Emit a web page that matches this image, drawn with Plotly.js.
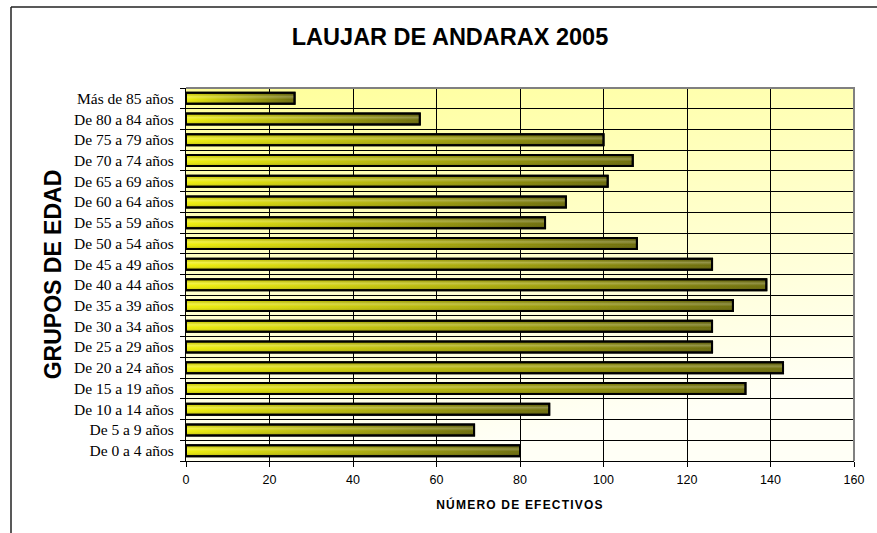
<!DOCTYPE html>
<html>
<head>
<meta charset="utf-8">
<script src="https://cdn.plot.ly/plotly-3.0.1.min.js"></script>
<style>
  html, body { margin: 0; padding: 0; background: #fff; }
  #chart { width: 877px; height: 533px; }
</style>
</head>
<body>
<div id="chart"></div>
<script>
// grupos de edad, de abajo hacia arriba
var grupos = ['De 0 a 4 años', 'De 5 a 9 años', 'De 10 a 14 años', 'De 15 a 19 años',
    'De 20 a 24 años', 'De 25 a 29 años', 'De 30 a 34 años', 'De 35 a 39 años',
    'De 40 a 44 años', 'De 45 a 49 años', 'De 50 a 54 años', 'De 55 a 59 años',
    'De 60 a 64 años', 'De 65 a 69 años', 'De 70 a 74 años', 'De 75 a 79 años',
    'De 80 a 84 años', 'Más de 85 años'];
var efectivos = [80, 69, 87, 134, 143, 126, 126, 131, 139, 126, 108, 86, 91, 101, 107, 100, 56, 26];
var xTicks = [0, 20, 40, 60, 80, 100, 120, 140, 160];

var data = [{
    type: 'bar',
    orientation: 'h',
    x: efectivos,
    y: grupos,
    hoverinfo: 'none',
    showlegend: false,
    marker: {
        color: '#B0B000',
        line: { color: '#000000', width: 2 }
    }
}];

var layout = {
    width: 877,
    height: 533,
    margin: { l: 186, r: 23, t: 88, b: 72 },
    paper_bgcolor: '#FFFFFF',
    plot_bgcolor: '#FFFF99',
    bargap: 0.47,
    title: {
        text: 'LAUJAR DE ANDARAX 2005',
        font: { family: 'Liberation Sans, Arial, sans-serif', size: 23.5, weight: 'bold', color: '#000' },
        xref: 'container', x: 450 / 877, xanchor: 'center',
        yref: 'container', y: 1 - 37 / 533, yanchor: 'middle'
    },
    xaxis: {
        range: [0, 160],
        tickmode: 'array',
        tickvals: xTicks,
        ticktext: xTicks.map(String),
        showgrid: true,
        gridcolor: '#000000',
        gridwidth: 1,
        zeroline: false,
        showline: true,
        linecolor: '#000000',
        linewidth: 1,
        ticks: 'outside',
        ticklen: 5,
        tickcolor: '#000000',
        ticklabelstandoff: 2,
        tickfont: { family: 'Liberation Sans, Arial, sans-serif', size: 12.5, color: '#000' },
        title: {
            text: 'NÚMERO DE EFECTIVOS',
            standoff: 14,
            font: { family: 'Liberation Sans, Arial, sans-serif', size: 12, weight: 'bold', color: '#000' }
        },
        fixedrange: true
    },
    yaxis: {
        type: 'category',
        range: [-0.5, 17.5],
        tickson: 'boundaries',
        showgrid: true,
        gridcolor: '#000000',
        gridwidth: 1,
        showline: true,
        linecolor: '#000000',
        linewidth: 1,
        ticks: 'outside',
        ticklen: 5,
        tickcolor: '#000000',
        ticklabelstandoff: 8,
        tickfont: { family: 'Liberation Serif, Times New Roman, serif', size: 15.5, color: '#000' },
        title: {
            text: 'GRUPOS DE EDAD',
            standoff: 5,
            font: { family: 'Liberation Sans, Arial, sans-serif', size: 23, weight: 'bold', color: '#000' }
        },
        fixedrange: true
    },
    shapes: [
        // borde gris del área de trazado (arriba y derecha)
        { type: 'path', xref: 'paper', yref: 'paper', path: 'M 0 1 L 1 1 L 1 0',
          line: { color: '#808080', width: 2 }, layer: 'above' },
        // marco exterior del gráfico
        { type: 'line', xref: 'paper', yref: 'paper',
          x0: (11 - 186) / 668, x1: (11 - 186) / 668, y0: (461 - 7) / 373, y1: (461 - 545) / 373,
          line: { color: '#222222', width: 1.5 } },
        { type: 'line', xref: 'paper', yref: 'paper',
          x0: (11 - 186) / 668, x1: (890 - 186) / 668, y0: (461 - 7) / 373, y1: (461 - 7) / 373,
          line: { color: '#222222', width: 1.5 } }
    ]
};

function svgEl(name, attrs) {
    var el = document.createElementNS('http://www.w3.org/2000/svg', name);
    for (var k in attrs) el.setAttribute(k, attrs[k]);
    return el;
}

function addGradient(defs, id, coords, stops) {
    var g = svgEl('linearGradient', Object.assign({ id: id }, coords));
    stops.forEach(function(s) {
        g.appendChild(svgEl('stop', { offset: s[0], 'stop-color': s[1], 'stop-opacity': s[2] }));
    });
    defs.appendChild(g);
}

Plotly.newPlot('chart', data, layout, { displayModeBar: false, staticPlot: true }).then(function(gd) {
    var svg = gd.querySelector('.main-svg');
    var defs = svg.querySelector('defs');
    addGradient(defs, 'plotBg', { x1: 0, y1: 0, x2: 0.3, y2: 1 },
        [[0, '#FFFF99', 1], [0.45, '#FFFFC4', 1], [1, '#FFFFF6', 1]]);
    addGradient(defs, 'barGrad', { x1: 0, y1: 0, x2: 1, y2: 0 },
        [[0, '#EEEE00', 1], [0.5, '#ABAB00', 1], [1, '#676700', 1]]);
    addGradient(defs, 'barShine', { x1: 0, y1: 0, x2: 0, y2: 1 },
        [[0, '#000000', 0.12], [0.35, '#FFFFFF', 0.28], [0.6, '#FFFFFF', 0.05], [1, '#000000', 0.25]]);

    // fondo del área de trazado con degradado
    gd.querySelectorAll('rect.bg').forEach(function(r) {
        if (Math.abs(parseFloat(r.getAttribute('width')) - 668) < 3) r.style.fill = 'url(#plotBg)';
    });

    // barras con degradado horizontal y brillo vertical
    gd.querySelectorAll('.barlayer .point path').forEach(function(p) {
        p.style.fill = 'url(#barGrad)';
        var shine = p.cloneNode(true);
        shine.style.fill = 'url(#barShine)';
        shine.style.fillOpacity = 1;
        p.parentNode.insertBefore(shine, p.nextSibling);
    });

    var xt = gd.querySelector('.g-xtitle text');
    if (xt) xt.style.letterSpacing = '1.2px';
});
</script>
</body>
</html>
